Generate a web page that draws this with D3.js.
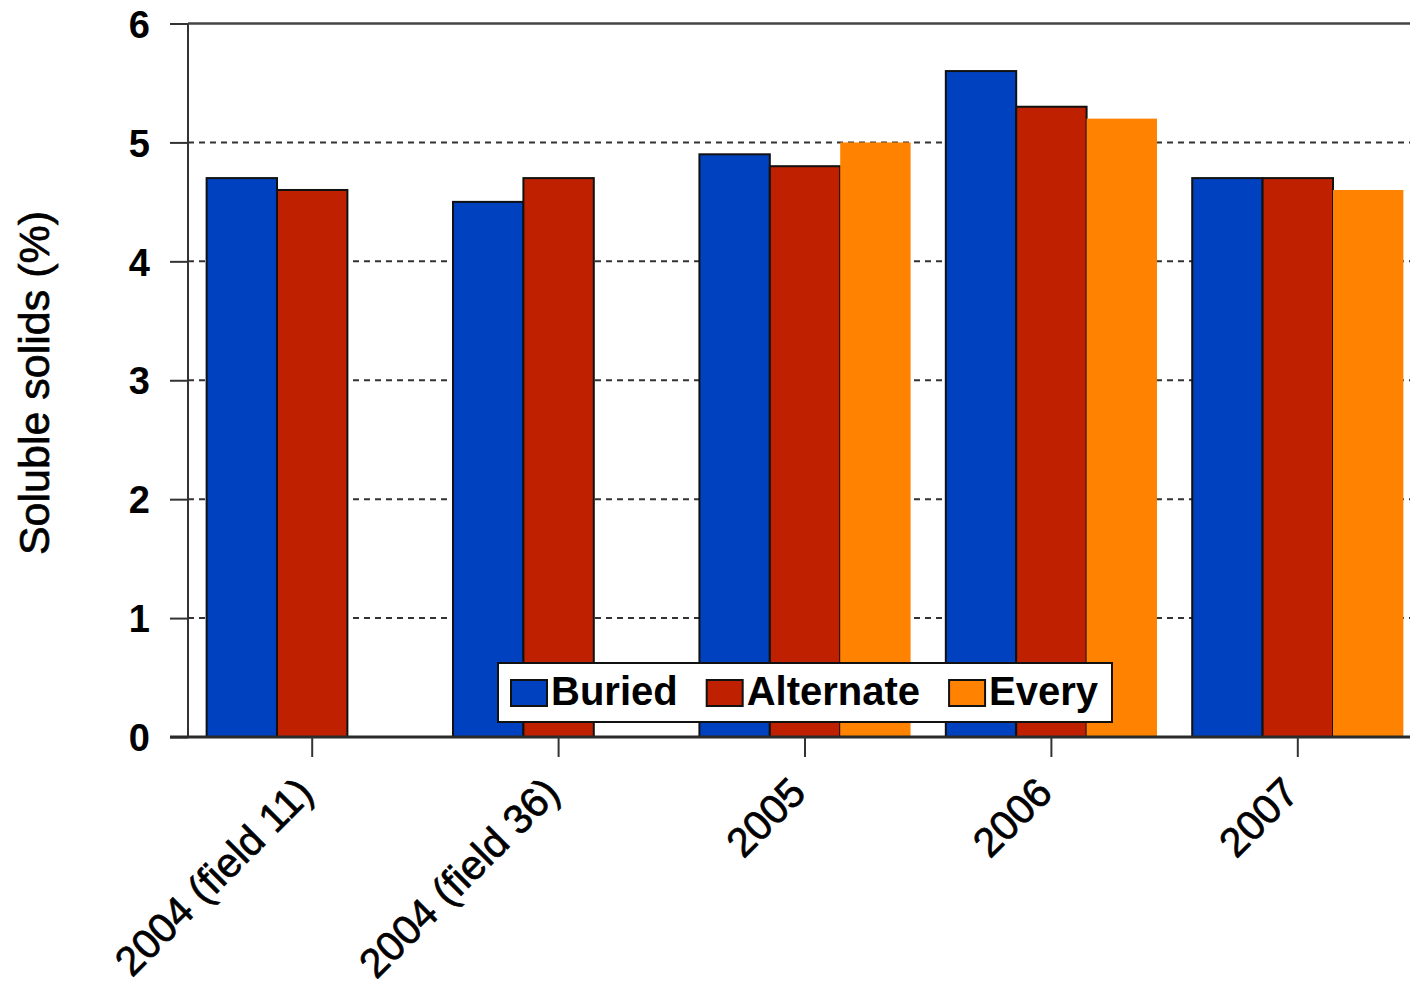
<!DOCTYPE html>
<html>
<head>
<meta charset="utf-8">
<script src="https://cdn.jsdelivr.net/npm/d3@7"></script>
<style>
  html, body { margin: 0; padding: 0; background: #fff; }
  svg { display: block; }
</style>
</head>
<body>
<svg id="chart" width="1410" height="991"></svg>
<script>
// Soluble solids by year and irrigation placement
const categories = ["2004 (field 11)", "2004 (field 36)", "2005", "2006", "2007"];
const seriesNames = ["Buried", "Alternate", "Every"];
const buried    = [4.7, 4.5, 4.9, 5.6, 4.7];
const alternate = [4.6, 4.7, 4.8, 5.3, 4.7];
const every     = [null, null, 5.0, 5.2, 4.6];
const yTicks = [0, 1, 2, 3, 4, 5, 6];
const yTitle = "Soluble solids (%)";

const seriesValues = [buried, alternate, every];
const colors = ["#0041BF", "#BF2100", "#FF8200"];
const outlined = [true, true, false];

const svg = d3.select("#chart");
const plotLeft = 188, plotRight = 1421, plotTop = 23.5, plotBottom = 737;
const FONT = "'Liberation Sans', Arial, sans-serif";

const x0 = d3.scaleBand().domain(categories).range([plotLeft + 1, plotRight])
  .paddingInner(0.143).paddingOuter(0.0715);
const x1 = d3.scaleBand().domain(seriesNames).range([0, x0.bandwidth()]);
const y = d3.scaleLinear().domain([0, 6]).range([plotBottom, plotTop]);

// dashed gridlines
svg.append("g").selectAll("line").data(yTicks.filter(t => t > 0 && t < 6)).join("line")
  .attr("x1", plotLeft).attr("x2", 1410)
  .attr("y1", d => y(d)).attr("y2", d => y(d))
  .attr("stroke", "#333").attr("stroke-width", 2).attr("stroke-dasharray", "6 5");

// bars
const rows = [];
categories.forEach((c, i) => seriesNames.forEach((s, j) => {
  const v = seriesValues[j][i];
  if (v != null) rows.push({ c, s, v, j });
}));
svg.append("g").selectAll("rect").data(rows).join("rect")
  .attr("x", d => x0(d.c) + x1(d.s))
  .attr("y", d => y(d.v))
  .attr("width", x1.bandwidth())
  .attr("height", d => y(0) - y(d.v))
  .attr("fill", d => colors[d.j])
  .attr("stroke", d => outlined[d.j] ? "#111" : "none")
  .attr("stroke-width", 2);

// frame: top border and left axis line
svg.append("line").attr("x1", plotLeft).attr("x2", 1410).attr("y1", plotTop).attr("y2", plotTop)
  .attr("stroke", "#444").attr("stroke-width", 2.5);
svg.append("line").attr("x1", plotLeft).attr("x2", plotLeft).attr("y1", plotTop).attr("y2", plotBottom)
  .attr("stroke", "#333").attr("stroke-width", 2);

// y axis
const yAxis = svg.append("g").attr("transform", `translate(${plotLeft},0)`)
  .call(d3.axisLeft(y).tickValues(yTicks).tickSize(18).tickPadding(20).tickFormat(d3.format("d")));
yAxis.select(".domain").remove();
yAxis.selectAll(".tick line").attr("stroke", "#333").attr("stroke-width", 2);
yAxis.selectAll(".tick text")
  .attr("font-family", FONT).attr("font-size", 38).attr("font-weight", "bold")
  .attr("fill", "#000").attr("dy", "0.36em");

// baseline
svg.append("line").attr("x1", 170).attr("x2", 1410).attr("y1", plotBottom).attr("y2", plotBottom)
  .attr("stroke", "#2a2a2a").attr("stroke-width", 3);

// x axis
const xAxis = svg.append("g").attr("transform", `translate(0,${plotBottom})`)
  .call(d3.axisBottom(x0).tickSize(20));
xAxis.select(".domain").remove();
xAxis.selectAll(".tick line").attr("stroke", "#333").attr("stroke-width", 2);
xAxis.selectAll(".tick text")
  .attr("font-family", FONT).attr("font-size", 41).attr("fill", "#000")
  .attr("stroke", "#000").attr("stroke-width", 0.7)
  .attr("text-anchor", "end").attr("x", 0).attr("y", 0).attr("dy", 0)
  .attr("transform", "translate(3,58) rotate(-45)");

// y axis title
svg.append("text")
  .attr("transform", "translate(49,383) rotate(-90)")
  .attr("text-anchor", "middle")
  .attr("font-family", FONT).attr("font-size", 43).attr("fill", "#000")
  .attr("stroke", "#000").attr("stroke-width", 0.7)
  .text(yTitle);

// legend
const legend = svg.append("g");
legend.append("rect")
  .attr("x", 498).attr("y", 663).attr("width", 614).attr("height", 59)
  .attr("fill", "#fff").attr("stroke", "#111").attr("stroke-width", 2);
let lx = 511;
seriesNames.forEach((name, j) => {
  legend.append("rect")
    .attr("x", lx).attr("y", 680).attr("width", 36).attr("height", 26)
    .attr("fill", colors[j]).attr("stroke", "#111").attr("stroke-width", 2);
  const t = legend.append("text")
    .attr("x", lx + 40).attr("y", 705)
    .attr("font-family", FONT).attr("font-size", 40).attr("font-weight", "bold")
    .attr("fill", "#000").text(name);
  lx += 40 + t.node().getComputedTextLength() + 29;
});
</script>
</body>
</html>
